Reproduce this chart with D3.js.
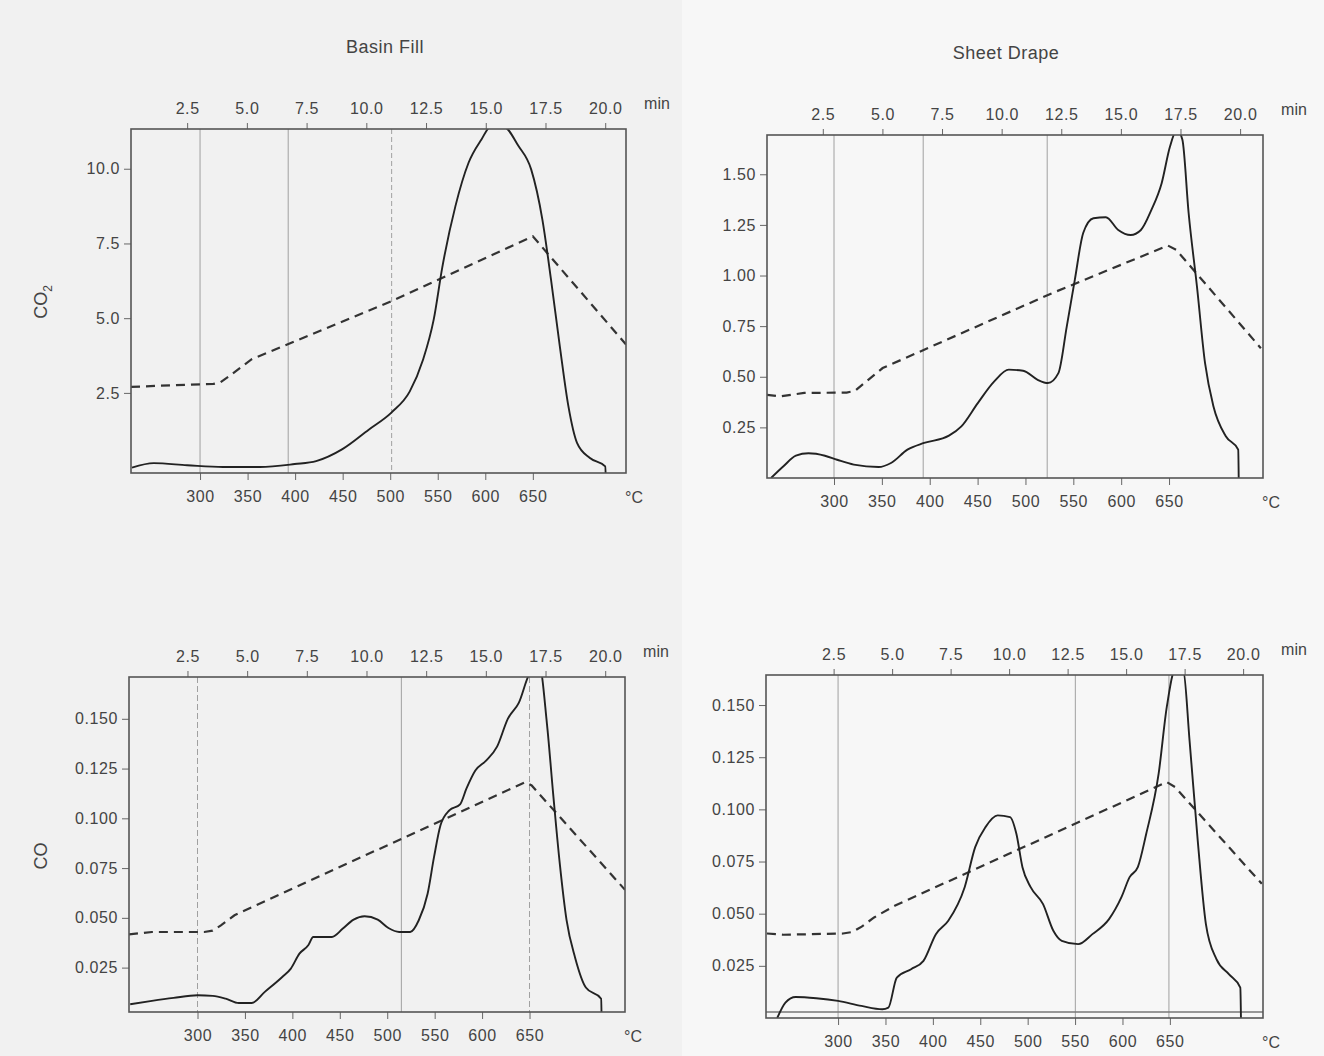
<!DOCTYPE html>
<html>
<head>
<meta charset="utf-8">
<script src="https://cdn.jsdelivr.net/npm/d3@7"></script>
<style>
  body { margin: 0; background: #f3f3f3; }
  svg text { font-family: "Liberation Sans", Arial, sans-serif; fill: #444; }
</style>
</head>
<body>
<script>
// axis labels shared by all panels
var minTicks = [2.5, 5.0, 7.5, 10.0, 12.5, 15.0, 17.5, 20.0];
var tempTicks = [300, 350, 400, 450, 500, 550, 600, 650];

// [minutes, value]
var basinCO2 = [[0.19,0],[1.1,0.15],[2.5,0.08],[4,0.02],[5.55,0.02],[7.0,0.12],[7.9,0.22],[9.0,0.62],
  [10.1,1.27],[11.06,1.85],[11.82,2.55],[12.37,3.6],[12.82,4.95],[13.18,6.7],[13.73,8.75],[14.28,10.2],
  [14.82,10.98],[15.2,11.4],[15.75,11.4],[16.37,10.76],[16.9,9.98],[17.37,8.3],[17.73,6.3],[18.1,4.06],
  [18.46,2.05],[18.82,0.83],[19.36,0.32],[20.0,0.04],[20.03,-0.5]];
var basinCO2Temp = [[0.15,2.70],[2.0,2.76],[3.6,2.8],[3.9,2.86],[4.3,3.08],[5.19,3.62],[11.06,5.57],[16.97,7.74],[20.87,4.12]];

var drapeCO2 = [[0.33,0],[0.85,0.058],[1.37,0.11],[1.9,0.122],[2.59,0.11],[3.1,0.09],[3.8,0.066],[4.84,0.054],
  [5.36,0.074],[6.05,0.14],[6.75,0.173],[7.79,0.209],[8.31,0.255],[9.0,0.37],[9.69,0.477],[10.3,0.535],
  [10.9,0.53],[11.51,0.485],[11.94,0.469],[12.38,0.518],[12.73,0.748],[13.07,0.98],[13.42,1.21],[13.85,1.283],
  [14.37,1.288],[14.89,1.225],[15.41,1.2],[15.84,1.225],[16.28,1.324],[16.71,1.456],[17.06,1.637],[17.35,1.72],
  [17.58,1.67],[17.84,1.31],[18.19,0.946],[18.53,0.567],[18.88,0.354],[19.4,0.206],[19.92,0.14],[19.95,-0.1]];
var drapeCO2Temp = [[0.16,0.411],[0.7,0.403],[1.72,0.42],[3.5,0.422],[3.85,0.43],[4.2,0.465],[5.01,0.543],[12.12,0.913],
  [16.97,1.148],[17.32,1.127],[20.87,0.641]];

var basinCO = [[0.1,0.0066],[1.01,0.0083],[1.92,0.0098],[2.92,0.0111],[3.56,0.0108],[4.1,0.0094],[4.65,0.0072],
  [5.19,0.0072],[5.74,0.0128],[6.47,0.0203],[6.83,0.0245],[7.19,0.032],[7.56,0.0362],[7.77,0.0404],[8.55,0.0404],
  [9.01,0.0446],[9.46,0.0491],[9.92,0.0508],[10.47,0.0491],[10.92,0.0449],[11.37,0.0429],[11.83,0.0429],
  [12.19,0.0488],[12.56,0.0621],[12.83,0.0806],[13.1,0.0965],[13.47,0.104],[13.92,0.107],[14.19,0.115],
  [14.56,0.124],[15.01,0.129],[15.47,0.136],[15.92,0.15],[16.38,0.158],[16.85,0.173],[17.25,0.176],
  [17.56,0.1475],[17.83,0.111],[18.1,0.077],[18.38,0.049],[18.74,0.03],[19.19,0.015],[19.83,0.0094],[19.86,-0.01]];
var basinCOTemp = [[0.05,0.0417],[1.01,0.0429],[3.2,0.0429],[3.55,0.0436],[3.9,0.0462],[4.47,0.0513],[16.65,0.1182],
  [16.92,0.1165],[20.83,0.0641]];

var drapeCO = [[0.09,0],[0.44,0.0074],[0.88,0.0101],[1.76,0.0095],[2.69,0.0082],[3.69,0.0058],[4.58,0.0042],
  [4.84,0.005],[5.2,0.0194],[5.81,0.0234],[6.34,0.0274],[6.87,0.0402],[7.4,0.0466],[8.1,0.0627],[8.55,0.0819],
  [8.99,0.0915],[9.51,0.0971],[10.04,0.0963],[10.31,0.0883],[10.57,0.0723],[10.92,0.0627],[11.45,0.0546],
  [11.89,0.0418],[12.25,0.037],[12.95,0.0354],[13.56,0.0402],[14.27,0.0474],[14.8,0.0579],[15.15,0.0675],
  [15.5,0.0723],[15.86,0.0883],[16.39,0.1171],[16.74,0.1492],[17.1,0.167],[17.45,0.166],[17.71,0.1332],
  [18.06,0.0851],[18.41,0.045],[18.86,0.0282],[19.39,0.021],[19.88,0.0146],[19.92,-0.01]];
var drapeCOTemp = [[-0.35,0.0405],[0.35,0.0399],[2.9,0.0405],[3.3,0.0412],[3.7,0.0438],[4.23,0.0482],[5.11,0.0538],
  [16.74,0.1131],[17.09,0.1107],[20.8,0.0643]];

// vertical marker lines (minutes)
var basinCO2Marks = [3.04, 6.73, 11.06];
var drapeCO2Marks = [2.97, 6.71, 11.91];
var basinCOMarks = [2.92, 11.46, 16.83];
var drapeCOMarks = [2.69, 12.83, 16.83];

var panels = [
  { x0: 131, x1: 626, y0: 129, y1: 473, xDom: [0.15, 20.87], yDom: [-0.18, 11.33], tRange: [3.04, 16.97],
    yTicks: [2.5, 5.0, 7.5, 10.0], fmt: ".1f", solid: basinCO2, dashed: basinCO2Temp, marks: basinCO2Marks,
    markDash: [null, null, "5,3"] },
  { x0: 767, x1: 1263, y0: 135, y1: 478, xDom: [0.16, 20.96], yDom: [0, 1.694], tRange: [2.97, 17.02],
    yTicks: [0.25, 0.5, 0.75, 1.0, 1.25, 1.5], fmt: ".2f", solid: drapeCO2, dashed: drapeCO2Temp, marks: drapeCO2Marks,
    markDash: [null, null, null] },
  { x0: 129, x1: 625, y0: 677, y1: 1012, xDom: [0.05, 20.83], yDom: [0.0027, 0.171], tRange: [2.92, 16.83],
    yTicks: [0.025, 0.05, 0.075, 0.1, 0.125, 0.15], fmt: ".3f", solid: basinCO, dashed: basinCOTemp, marks: basinCOMarks,
    markDash: ["6,3", null, "6,3"] },
  { x0: 766, x1: 1263, y0: 675, y1: 1018, xDom: [-0.39, 20.85], yDom: [0, 0.1644], tRange: [2.69, 16.87],
    yTicks: [0.025, 0.05, 0.075, 0.1, 0.125, 0.15], fmt: ".3f", solid: drapeCO, dashed: drapeCOTemp, marks: drapeCOMarks,
    markDash: [null, null, null], baseline: 0.0029 }
];

var svg = d3.select("body").append("svg")
  .attr("width", 1324)
  .attr("height", 1056);

svg.append("rect").attr("width", 682).attr("height", 1056).attr("fill", "#f1f1f1");
svg.append("rect").attr("x", 682).attr("width", 642).attr("height", 1056).attr("fill", "#f7f7f7");

svg.append("text").attr("x", 385).attr("y", 53).attr("text-anchor", "middle")
  .style("font-size", "18px").style("letter-spacing", "0.5px").text("Basin Fill");
svg.append("text").attr("x", 1006).attr("y", 59).attr("text-anchor", "middle")
  .style("font-size", "18px").style("letter-spacing", "0.5px").text("Sheet Drape");

var co2Label = svg.append("text").attr("transform", "translate(47,302) rotate(-90)")
  .attr("text-anchor", "middle").style("font-size", "18px").text("CO");
co2Label.append("tspan").attr("dy", 5).style("font-size", "12px").text("2");
svg.append("text").attr("transform", "translate(47,856) rotate(-90)")
  .attr("text-anchor", "middle").style("font-size", "18px").text("CO");

panels.forEach(function(p, i) {
  var x = d3.scaleLinear().domain(p.xDom).range([p.x0, p.x1]);
  var y = d3.scaleLinear().domain(p.yDom).range([p.y1, p.y0]);
  var tempToMin = d3.scaleLinear().domain([300, 650]).range(p.tRange);

  var g = svg.append("g");
  g.append("clipPath").attr("id", "clip" + i).append("rect")
    .attr("x", p.x0).attr("y", p.y0).attr("width", p.x1 - p.x0).attr("height", p.y1 - p.y0);

  // marker lines
  g.selectAll(".mark").data(p.marks).join("line")
    .attr("x1", function(d) { return x(d); }).attr("x2", function(d) { return x(d); })
    .attr("y1", p.y0).attr("y2", p.y1)
    .attr("stroke", "#a0a0a0").attr("stroke-width", 1)
    .attr("stroke-dasharray", function(d, j) { return p.markDash[j]; });

  if (p.baseline !== undefined) {
    g.append("line").attr("x1", p.x0).attr("x2", p.x1)
      .attr("y1", y(p.baseline)).attr("y2", y(p.baseline))
      .attr("stroke", "#777").attr("stroke-width", 1.5);
  }

  var smooth = d3.line()
    .x(function(d) { return x(d[0]); })
    .y(function(d) { return y(d[1]); })
    .curve(d3.curveMonotoneX);
  var straight = d3.line()
    .x(function(d) { return x(d[0]); })
    .y(function(d) { return y(d[1]); });

  g.append("path").datum(p.dashed)
    .attr("d", straight).attr("fill", "none")
    .attr("stroke", "#333").attr("stroke-width", 2.2).attr("stroke-dasharray", "9,6")
    .attr("clip-path", "url(#clip" + i + ")");
  g.append("path").datum(p.solid)
    .attr("d", smooth).attr("fill", "none")
    .attr("stroke", "#222").attr("stroke-width", 1.9)
    .attr("clip-path", "url(#clip" + i + ")");

  // axes
  var left = g.append("g").attr("transform", "translate(" + p.x0 + ",0)")
    .call(d3.axisLeft(y).tickValues(p.yTicks).tickFormat(d3.format(p.fmt)).tickSize(7).tickPadding(4));
  var top = g.append("g").attr("transform", "translate(0," + p.y0 + ")")
    .call(d3.axisTop(x).tickValues(minTicks).tickFormat(d3.format(".1f")).tickSize(6).tickPadding(9));
  var bottom = g.append("g").attr("transform", "translate(0," + p.y1 + ")")
    .call(d3.axisBottom(x).tickValues(tempTicks.map(tempToMin))
      .tickFormat(function(d, j) { return tempTicks[j]; }).tickSize(7).tickPadding(11));
  [left, top, bottom].forEach(function(a) {
    a.select(".domain").remove();
    a.selectAll("line").attr("stroke", "#666");
    a.selectAll("text").style("font-size", "16px").style("letter-spacing", "0.6px").attr("fill", "#444");
  });

  g.append("rect").attr("x", p.x0).attr("y", p.y0)
    .attr("width", p.x1 - p.x0).attr("height", p.y1 - p.y0)
    .attr("fill", "none").attr("stroke", "#555").attr("stroke-width", 1.6);

  g.append("text").attr("x", p.x1 + 31).attr("y", p.y0 - 20)
    .attr("text-anchor", "middle").style("font-size", "16px").text("min");
  g.append("text").attr("x", p.x1 + 8).attr("y", p.y1 + 30)
    .attr("text-anchor", "middle").style("font-size", "16px").text("°C");
});
</script>
</body>
</html>
